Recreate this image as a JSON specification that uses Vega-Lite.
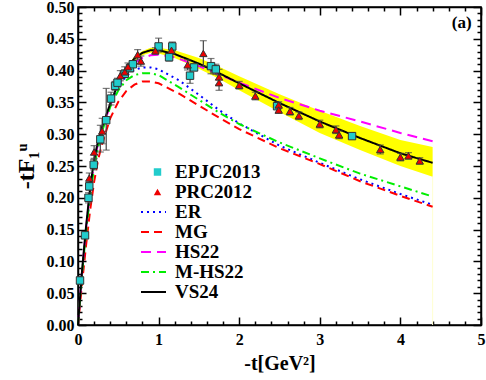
{
  "$schema": "https://vega.github.io/schema/vega-lite/v6.json",
  "width": 403,
  "height": 318,
  "autosize": {"type": "none"},
  "padding": {"left": 78, "top": 7, "right": 5, "bottom": 55},
  "config": {
    "view": {"stroke": "black", "strokeWidth": 1.5},
    "font": "Liberation Serif",
    "axis": {
      "domainColor": "black", "domainWidth": 1.5,
      "tickColor": "black", "tickWidth": 1.5,
      "labelFont": "Liberation Serif", "labelFontSize": 16, "labelFontWeight": "bold", "labelColor": "black",
      "titleFont": "Liberation Serif", "titleFontWeight": "bold", "titleColor": "black",
      "grid": false
    },
    "legend": {
      "labelFont": "Liberation Serif", "labelFontSize": 19, "labelFontWeight": "bold", "labelColor": "black",
      "padding": 0, "rowPadding": 0, "clipHeight": 19.5, "title": null, "labelBaseline": "middle", "labelLimit": 300
    }
  },
  "datasets": {
    "band": [
      {"x": 0.6, "lo": 0.400, "hi": 0.406},
      {"x": 0.7, "lo": 0.415, "hi": 0.422},
      {"x": 0.8, "lo": 0.424, "hi": 0.431},
      {"x": 0.9, "lo": 0.428, "hi": 0.436},
      {"x": 1.0, "lo": 0.427, "hi": 0.436},
      {"x": 1.2, "lo": 0.420, "hi": 0.432},
      {"x": 1.5, "lo": 0.403, "hi": 0.420},
      {"x": 1.75, "lo": 0.387, "hi": 0.406},
      {"x": 2.0, "lo": 0.369, "hi": 0.391},
      {"x": 2.5, "lo": 0.335, "hi": 0.363},
      {"x": 3.0, "lo": 0.302, "hi": 0.337},
      {"x": 3.5, "lo": 0.275, "hi": 0.313},
      {"x": 4.0, "lo": 0.250, "hi": 0.291},
      {"x": 4.4, "lo": 0.233, "hi": 0.280}
    ],
    "edge": [{"x": 4.4, "lo": 0, "hi": 0.233}],
    "models": [
      {"model": "ER", "x": 0, "y": 0}, {"model": "ER", "x": 0.05, "y": 0.08}, {"model": "ER", "x": 0.1, "y": 0.148}, {"model": "ER", "x": 0.15, "y": 0.205}, {"model": "ER", "x": 0.2, "y": 0.25}, {"model": "ER", "x": 0.25, "y": 0.282}, {"model": "ER", "x": 0.3, "y": 0.307}, {"model": "ER", "x": 0.4, "y": 0.346}, {"model": "ER", "x": 0.5, "y": 0.374}, {"model": "ER", "x": 0.6, "y": 0.392}, {"model": "ER", "x": 0.7, "y": 0.401}, {"model": "ER", "x": 0.8, "y": 0.405}, {"model": "ER", "x": 0.9, "y": 0.405}, {"model": "ER", "x": 1.0, "y": 0.402}, {"model": "ER", "x": 1.25, "y": 0.385}, {"model": "ER", "x": 1.5, "y": 0.362}, {"model": "ER", "x": 1.75, "y": 0.338}, {"model": "ER", "x": 2.0, "y": 0.317}, {"model": "ER", "x": 2.5, "y": 0.282}, {"model": "ER", "x": 3.0, "y": 0.255}, {"model": "ER", "x": 3.5, "y": 0.229}, {"model": "ER", "x": 4.0, "y": 0.206}, {"model": "ER", "x": 4.4, "y": 0.189},
      {"model": "MG", "x": 0, "y": 0}, {"model": "MG", "x": 0.05, "y": 0.065}, {"model": "MG", "x": 0.1, "y": 0.125}, {"model": "MG", "x": 0.15, "y": 0.18}, {"model": "MG", "x": 0.2, "y": 0.225}, {"model": "MG", "x": 0.25, "y": 0.26}, {"model": "MG", "x": 0.3, "y": 0.285}, {"model": "MG", "x": 0.35, "y": 0.305}, {"model": "MG", "x": 0.4, "y": 0.325}, {"model": "MG", "x": 0.5, "y": 0.351}, {"model": "MG", "x": 0.6, "y": 0.368}, {"model": "MG", "x": 0.7, "y": 0.378}, {"model": "MG", "x": 0.8, "y": 0.383}, {"model": "MG", "x": 0.9, "y": 0.383}, {"model": "MG", "x": 1.0, "y": 0.38}, {"model": "MG", "x": 1.25, "y": 0.364}, {"model": "MG", "x": 1.5, "y": 0.345}, {"model": "MG", "x": 1.75, "y": 0.326}, {"model": "MG", "x": 2.0, "y": 0.308}, {"model": "MG", "x": 2.5, "y": 0.278}, {"model": "MG", "x": 3.0, "y": 0.253}, {"model": "MG", "x": 3.5, "y": 0.226}, {"model": "MG", "x": 4.0, "y": 0.203}, {"model": "MG", "x": 4.4, "y": 0.186},
      {"model": "HS22", "x": 0, "y": 0}, {"model": "HS22", "x": 0.05, "y": 0.083}, {"model": "HS22", "x": 0.1, "y": 0.152}, {"model": "HS22", "x": 0.15, "y": 0.21}, {"model": "HS22", "x": 0.2, "y": 0.255}, {"model": "HS22", "x": 0.25, "y": 0.286}, {"model": "HS22", "x": 0.3, "y": 0.309}, {"model": "HS22", "x": 0.4, "y": 0.345}, {"model": "HS22", "x": 0.5, "y": 0.376}, {"model": "HS22", "x": 0.6, "y": 0.398}, {"model": "HS22", "x": 0.7, "y": 0.412}, {"model": "HS22", "x": 0.8, "y": 0.42}, {"model": "HS22", "x": 0.9, "y": 0.424}, {"model": "HS22", "x": 1.0, "y": 0.425}, {"model": "HS22", "x": 1.2, "y": 0.421}, {"model": "HS22", "x": 1.5, "y": 0.407}, {"model": "HS22", "x": 1.75, "y": 0.394}, {"model": "HS22", "x": 2.0, "y": 0.381}, {"model": "HS22", "x": 2.5, "y": 0.357}, {"model": "HS22", "x": 3.0, "y": 0.337}, {"model": "HS22", "x": 3.5, "y": 0.32}, {"model": "HS22", "x": 4.0, "y": 0.302}, {"model": "HS22", "x": 4.4, "y": 0.289},
      {"model": "M-HS22", "x": 0, "y": 0}, {"model": "M-HS22", "x": 0.05, "y": 0.08}, {"model": "M-HS22", "x": 0.1, "y": 0.147}, {"model": "M-HS22", "x": 0.15, "y": 0.203}, {"model": "M-HS22", "x": 0.2, "y": 0.248}, {"model": "M-HS22", "x": 0.25, "y": 0.28}, {"model": "M-HS22", "x": 0.3, "y": 0.305}, {"model": "M-HS22", "x": 0.4, "y": 0.343}, {"model": "M-HS22", "x": 0.5, "y": 0.369}, {"model": "M-HS22", "x": 0.6, "y": 0.385}, {"model": "M-HS22", "x": 0.7, "y": 0.393}, {"model": "M-HS22", "x": 0.8, "y": 0.396}, {"model": "M-HS22", "x": 0.9, "y": 0.396}, {"model": "M-HS22", "x": 1.0, "y": 0.393}, {"model": "M-HS22", "x": 1.25, "y": 0.374}, {"model": "M-HS22", "x": 1.5, "y": 0.354}, {"model": "M-HS22", "x": 1.75, "y": 0.334}, {"model": "M-HS22", "x": 2.0, "y": 0.316}, {"model": "M-HS22", "x": 2.5, "y": 0.287}, {"model": "M-HS22", "x": 3.0, "y": 0.262}, {"model": "M-HS22", "x": 3.5, "y": 0.238}, {"model": "M-HS22", "x": 4.0, "y": 0.218}, {"model": "M-HS22", "x": 4.4, "y": 0.202},
      {"model": "VS24", "x": 0, "y": 0}, {"model": "VS24", "x": 0.05, "y": 0.085}, {"model": "VS24", "x": 0.1, "y": 0.155}, {"model": "VS24", "x": 0.15, "y": 0.215}, {"model": "VS24", "x": 0.2, "y": 0.26}, {"model": "VS24", "x": 0.25, "y": 0.29}, {"model": "VS24", "x": 0.3, "y": 0.312}, {"model": "VS24", "x": 0.4, "y": 0.348}, {"model": "VS24", "x": 0.5, "y": 0.38}, {"model": "VS24", "x": 0.6, "y": 0.404}, {"model": "VS24", "x": 0.7, "y": 0.419}, {"model": "VS24", "x": 0.8, "y": 0.428}, {"model": "VS24", "x": 0.9, "y": 0.432}, {"model": "VS24", "x": 1.0, "y": 0.432}, {"model": "VS24", "x": 1.2, "y": 0.426}, {"model": "VS24", "x": 1.5, "y": 0.411}, {"model": "VS24", "x": 1.75, "y": 0.396}, {"model": "VS24", "x": 2.0, "y": 0.38}, {"model": "VS24", "x": 2.5, "y": 0.349}, {"model": "VS24", "x": 3.0, "y": 0.32}, {"model": "VS24", "x": 3.5, "y": 0.294}, {"model": "VS24", "x": 4.0, "y": 0.27}, {"model": "VS24", "x": 4.4, "y": 0.255}
    ],
    "points": [
      {"series": "EPJC2013", "x": 0.025, "y": 0.070, "lo": 0.064, "hi": 0.076},
      {"series": "EPJC2013", "x": 0.087, "y": 0.141, "lo": 0.136, "hi": 0.146},
      {"series": "EPJC2013", "x": 0.13, "y": 0.200, "lo": 0.192, "hi": 0.208},
      {"series": "EPJC2013", "x": 0.14, "y": 0.218, "lo": 0.212, "hi": 0.224},
      {"series": "EPJC2013", "x": 0.195, "y": 0.252, "lo": 0.244, "hi": 0.260},
      {"series": "EPJC2013", "x": 0.277, "y": 0.292, "lo": 0.272, "hi": 0.314},
      {"series": "EPJC2013", "x": 0.35, "y": 0.322, "lo": 0.275, "hi": 0.372},
      {"series": "EPJC2013", "x": 0.41, "y": 0.356, "lo": 0.346, "hi": 0.366},
      {"series": "EPJC2013", "x": 0.46, "y": 0.376, "lo": 0.369, "hi": 0.383},
      {"series": "EPJC2013", "x": 0.49, "y": 0.381, "lo": 0.374, "hi": 0.388},
      {"series": "EPJC2013", "x": 0.58, "y": 0.395, "lo": 0.389, "hi": 0.401},
      {"series": "EPJC2013", "x": 0.645, "y": 0.404, "lo": 0.398, "hi": 0.410},
      {"series": "EPJC2013", "x": 0.68, "y": 0.410, "lo": 0.405, "hi": 0.415},
      {"series": "EPJC2013", "x": 1.0, "y": 0.438, "lo": 0.429, "hi": 0.451},
      {"series": "EPJC2013", "x": 1.13, "y": 0.421, "lo": 0.415, "hi": 0.427},
      {"series": "EPJC2013", "x": 1.17, "y": 0.438, "lo": 0.431, "hi": 0.445},
      {"series": "EPJC2013", "x": 1.39, "y": 0.392, "lo": 0.380, "hi": 0.404},
      {"series": "EPJC2013", "x": 1.44, "y": 0.405, "lo": 0.400, "hi": 0.410},
      {"series": "EPJC2013", "x": 1.65, "y": 0.407, "lo": 0.395, "hi": 0.419},
      {"series": "EPJC2013", "x": 1.71, "y": 0.402, "lo": 0.394, "hi": 0.410},
      {"series": "EPJC2013", "x": 2.47, "y": 0.344, "lo": 0.340, "hi": 0.348},
      {"series": "EPJC2013", "x": 3.40, "y": 0.297, "lo": 0.294, "hi": 0.300},
      {"series": "PRC2012", "x": 0.14, "y": 0.231, "lo": 0.223, "hi": 0.239},
      {"series": "PRC2012", "x": 0.2, "y": 0.272, "lo": 0.262, "hi": 0.282},
      {"series": "PRC2012", "x": 0.3, "y": 0.305, "lo": 0.285, "hi": 0.325},
      {"series": "PRC2012", "x": 0.525, "y": 0.392, "lo": 0.384, "hi": 0.400},
      {"series": "PRC2012", "x": 0.58, "y": 0.398, "lo": 0.390, "hi": 0.406},
      {"series": "PRC2012", "x": 0.62, "y": 0.406, "lo": 0.400, "hi": 0.412},
      {"series": "PRC2012", "x": 0.74, "y": 0.425, "lo": 0.417, "hi": 0.433},
      {"series": "PRC2012", "x": 0.78, "y": 0.415, "lo": 0.407, "hi": 0.423},
      {"series": "PRC2012", "x": 0.96, "y": 0.431, "lo": 0.426, "hi": 0.436},
      {"series": "PRC2012", "x": 1.16, "y": 0.432, "lo": 0.426, "hi": 0.438},
      {"series": "PRC2012", "x": 1.36, "y": 0.409, "lo": 0.401, "hi": 0.417},
      {"series": "PRC2012", "x": 1.555, "y": 0.427, "lo": 0.407, "hi": 0.447},
      {"series": "PRC2012", "x": 1.75, "y": 0.390, "lo": 0.378, "hi": 0.402},
      {"series": "PRC2012", "x": 1.75, "y": 0.381, "lo": 0.369, "hi": 0.393},
      {"series": "PRC2012", "x": 2.0, "y": 0.377, "lo": 0.371, "hi": 0.383},
      {"series": "PRC2012", "x": 2.2, "y": 0.360, "lo": 0.354, "hi": 0.366},
      {"series": "PRC2012", "x": 2.49, "y": 0.346, "lo": 0.341, "hi": 0.351},
      {"series": "PRC2012", "x": 2.49, "y": 0.338, "lo": 0.333, "hi": 0.343},
      {"series": "PRC2012", "x": 2.63, "y": 0.336, "lo": 0.330, "hi": 0.342},
      {"series": "PRC2012", "x": 2.74, "y": 0.329, "lo": 0.323, "hi": 0.335},
      {"series": "PRC2012", "x": 3.0, "y": 0.316, "lo": 0.310, "hi": 0.322},
      {"series": "PRC2012", "x": 3.2, "y": 0.307, "lo": 0.301, "hi": 0.313},
      {"series": "PRC2012", "x": 3.24, "y": 0.299, "lo": 0.293, "hi": 0.305},
      {"series": "PRC2012", "x": 3.75, "y": 0.276, "lo": 0.269, "hi": 0.283},
      {"series": "PRC2012", "x": 4.0, "y": 0.264, "lo": 0.258, "hi": 0.270},
      {"series": "PRC2012", "x": 4.1, "y": 0.266, "lo": 0.261, "hi": 0.271},
      {"series": "PRC2012", "x": 4.24, "y": 0.258, "lo": 0.253, "hi": 0.263}
    ],
    "label": [{"x": 4.76, "y": 0.475, "text": "(a)"}]
  },
  "layer": [
    {
      "layer": [
        {
          "data": {"name": "band"},
          "mark": {"type": "area", "color": "#ffff00", "opacity": 1},
          "encoding": {
            "x": {"field": "x", "type": "quantitative", "scale": {"domain": [0, 5], "nice": false, "zero": false},
              "axis": {"orient": "bottom", "title": "-t[GeV²]", "titleFontSize": 20, "titlePadding": 6, "values": [0,0.2,0.4,0.6,0.8,1,1.2,1.4,1.6,1.8,2,2.2,2.4,2.6,2.8,3,3.2,3.4,3.6,3.8,4,4.2,4.4,4.6,4.8,5], "labelExpr": "abs(datum.value - round(datum.value)) < 0.001 ? format(datum.value, 'd') : ''", "tickSize": {"condition": {"test": "abs(datum.value - round(datum.value)) < 0.001", "value": -8}, "value": -4}, "labelPadding": 14, "labelFlush": false}},
            "y": {"field": "lo", "type": "quantitative", "scale": {"domain": [0, 0.5], "nice": false, "zero": false},
              "axis": {"orient": "left", "title": "-tF₁ᵘ", "titleFontSize": 24, "titlePadding": 8, "values": [0,0.01,0.02,0.03,0.04,0.05,0.06,0.07,0.08,0.09,0.1,0.11,0.12,0.13,0.14,0.15,0.16,0.17,0.18,0.19,0.2,0.21,0.22,0.23,0.24,0.25,0.26,0.27,0.28,0.29,0.3,0.31,0.32,0.33,0.34,0.35,0.36,0.37,0.38,0.39,0.4,0.41,0.42,0.43,0.44,0.45,0.46,0.47,0.48,0.49,0.5], "labelExpr": "abs(datum.value*20 - round(datum.value*20)) < 0.001 ? format(datum.value, '.2f') : ''", "tickSize": {"condition": {"test": "abs(datum.value*20 - round(datum.value*20)) < 0.001", "value": -8}, "value": -4}, "labelPadding": 12, "labelFlush": false}},
            "y2": {"field": "hi"}
          }
        },
        {
          "data": {"name": "edge"},
          "mark": {"type": "rule", "color": "#ffffd0", "strokeWidth": 1},
          "encoding": {
            "x": {"field": "x", "type": "quantitative",
              "axis": {"orient": "bottom", "title": "-t[GeV²]", "titleFontSize": 20, "titlePadding": 6, "values": [0,0.2,0.4,0.6,0.8,1,1.2,1.4,1.6,1.8,2,2.2,2.4,2.6,2.8,3,3.2,3.4,3.6,3.8,4,4.2,4.4,4.6,4.8,5], "labelExpr": "abs(datum.value - round(datum.value)) < 0.001 ? format(datum.value, 'd') : ''", "tickSize": {"condition": {"test": "abs(datum.value - round(datum.value)) < 0.001", "value": -8}, "value": -4}, "labelPadding": 14, "labelFlush": false}},
            "y": {"field": "lo", "type": "quantitative",
              "axis": {"orient": "left", "title": "-tF₁ᵘ", "titleFontSize": 24, "titlePadding": 8, "values": [0,0.01,0.02,0.03,0.04,0.05,0.06,0.07,0.08,0.09,0.1,0.11,0.12,0.13,0.14,0.15,0.16,0.17,0.18,0.19,0.2,0.21,0.22,0.23,0.24,0.25,0.26,0.27,0.28,0.29,0.3,0.31,0.32,0.33,0.34,0.35,0.36,0.37,0.38,0.39,0.4,0.41,0.42,0.43,0.44,0.45,0.46,0.47,0.48,0.49,0.5], "labelExpr": "abs(datum.value*20 - round(datum.value*20)) < 0.001 ? format(datum.value, '.2f') : ''", "tickSize": {"condition": {"test": "abs(datum.value*20 - round(datum.value*20)) < 0.001", "value": -8}, "value": -4}, "labelPadding": 12, "labelFlush": false}},
            "y2": {"field": "hi"}
          }
        },
        {
          "data": {"name": "models"},
          "mark": {"type": "line", "strokeWidth": 2},
          "encoding": {
            "x": {"field": "x", "type": "quantitative",
              "axis": {"orient": "bottom", "title": "-t[GeV²]", "titleFontSize": 20, "titlePadding": 6, "values": [0,0.2,0.4,0.6,0.8,1,1.2,1.4,1.6,1.8,2,2.2,2.4,2.6,2.8,3,3.2,3.4,3.6,3.8,4,4.2,4.4,4.6,4.8,5], "labelExpr": "abs(datum.value - round(datum.value)) < 0.001 ? format(datum.value, 'd') : ''", "tickSize": {"condition": {"test": "abs(datum.value - round(datum.value)) < 0.001", "value": -8}, "value": -4}, "labelPadding": 14, "labelFlush": false}},
            "y": {"field": "y", "type": "quantitative",
              "axis": {"orient": "left", "title": "-tF₁ᵘ", "titleFontSize": 24, "titlePadding": 8, "values": [0,0.01,0.02,0.03,0.04,0.05,0.06,0.07,0.08,0.09,0.1,0.11,0.12,0.13,0.14,0.15,0.16,0.17,0.18,0.19,0.2,0.21,0.22,0.23,0.24,0.25,0.26,0.27,0.28,0.29,0.3,0.31,0.32,0.33,0.34,0.35,0.36,0.37,0.38,0.39,0.4,0.41,0.42,0.43,0.44,0.45,0.46,0.47,0.48,0.49,0.5], "labelExpr": "abs(datum.value*20 - round(datum.value*20)) < 0.001 ? format(datum.value, '.2f') : ''", "tickSize": {"condition": {"test": "abs(datum.value*20 - round(datum.value*20)) < 0.001", "value": -8}, "value": -4}, "labelPadding": 12, "labelFlush": false}},
            "stroke": {
              "field": "model", "type": "nominal",
              "scale": {"domain": ["ER", "MG", "HS22", "M-HS22", "VS24"], "range": ["#0000ff", "#ff0000", "#ff00ff", "#00ee00", "#000000"]},
              "legend": {"orient": "none", "legendX": 62, "legendY": 195.25, "symbolSize": 625, "symbolStrokeWidth": 2, "labelOffset": 8, "symbolType": "stroke", "rowPadding": 0, "clipHeight": 19.5, "labelFontSize": 19}
            },
            "strokeDash": {
              "field": "model", "type": "nominal",
              "scale": {"domain": ["ER", "MG", "HS22", "M-HS22", "VS24"], "range": [[2, 4], [8, 5], [10, 6], [8, 4, 2, 4], [1, 0]]},
              "legend": {"orient": "none", "legendX": 62, "legendY": 195.25, "symbolSize": 625, "symbolStrokeWidth": 2, "labelOffset": 8, "symbolType": "stroke", "rowPadding": 0, "clipHeight": 19.5, "labelFontSize": 19}
            },
            "order": {"field": "x", "type": "quantitative"}
          }
        },
        {
          "data": {"name": "points"},
          "mark": {"type": "rule", "color": "#444444", "strokeWidth": 1.2},
          "encoding": {
            "x": {"field": "x", "type": "quantitative",
              "axis": {"orient": "bottom", "title": "-t[GeV²]", "titleFontSize": 20, "titlePadding": 6, "values": [0,0.2,0.4,0.6,0.8,1,1.2,1.4,1.6,1.8,2,2.2,2.4,2.6,2.8,3,3.2,3.4,3.6,3.8,4,4.2,4.4,4.6,4.8,5], "labelExpr": "abs(datum.value - round(datum.value)) < 0.001 ? format(datum.value, 'd') : ''", "tickSize": {"condition": {"test": "abs(datum.value - round(datum.value)) < 0.001", "value": -8}, "value": -4}, "labelPadding": 14, "labelFlush": false}},
            "y": {"field": "lo", "type": "quantitative",
              "axis": {"orient": "left", "title": "-tF₁ᵘ", "titleFontSize": 24, "titlePadding": 8, "values": [0,0.01,0.02,0.03,0.04,0.05,0.06,0.07,0.08,0.09,0.1,0.11,0.12,0.13,0.14,0.15,0.16,0.17,0.18,0.19,0.2,0.21,0.22,0.23,0.24,0.25,0.26,0.27,0.28,0.29,0.3,0.31,0.32,0.33,0.34,0.35,0.36,0.37,0.38,0.39,0.4,0.41,0.42,0.43,0.44,0.45,0.46,0.47,0.48,0.49,0.5], "labelExpr": "abs(datum.value*20 - round(datum.value*20)) < 0.001 ? format(datum.value, '.2f') : ''", "tickSize": {"condition": {"test": "abs(datum.value*20 - round(datum.value*20)) < 0.001", "value": -8}, "value": -4}, "labelPadding": 12, "labelFlush": false}},
            "y2": {"field": "hi"}
          }
        },
        {
          "data": {"name": "points"},
          "mark": {"type": "tick", "color": "#444444", "orient": "horizontal", "size": 7, "thickness": 1.2},
          "encoding": {
            "x": {"field": "x", "type": "quantitative",
              "axis": {"orient": "bottom", "title": "-t[GeV²]", "titleFontSize": 20, "titlePadding": 6, "values": [0,0.2,0.4,0.6,0.8,1,1.2,1.4,1.6,1.8,2,2.2,2.4,2.6,2.8,3,3.2,3.4,3.6,3.8,4,4.2,4.4,4.6,4.8,5], "labelExpr": "abs(datum.value - round(datum.value)) < 0.001 ? format(datum.value, 'd') : ''", "tickSize": {"condition": {"test": "abs(datum.value - round(datum.value)) < 0.001", "value": -8}, "value": -4}, "labelPadding": 14, "labelFlush": false}},
            "y": {"field": "lo", "type": "quantitative",
              "axis": {"orient": "left", "title": "-tF₁ᵘ", "titleFontSize": 24, "titlePadding": 8, "values": [0,0.01,0.02,0.03,0.04,0.05,0.06,0.07,0.08,0.09,0.1,0.11,0.12,0.13,0.14,0.15,0.16,0.17,0.18,0.19,0.2,0.21,0.22,0.23,0.24,0.25,0.26,0.27,0.28,0.29,0.3,0.31,0.32,0.33,0.34,0.35,0.36,0.37,0.38,0.39,0.4,0.41,0.42,0.43,0.44,0.45,0.46,0.47,0.48,0.49,0.5], "labelExpr": "abs(datum.value*20 - round(datum.value*20)) < 0.001 ? format(datum.value, '.2f') : ''", "tickSize": {"condition": {"test": "abs(datum.value*20 - round(datum.value*20)) < 0.001", "value": -8}, "value": -4}, "labelPadding": 12, "labelFlush": false}}
          }
        },
        {
          "data": {"name": "points"},
          "mark": {"type": "tick", "color": "#444444", "orient": "horizontal", "size": 7, "thickness": 1.2},
          "encoding": {
            "x": {"field": "x", "type": "quantitative",
              "axis": {"orient": "bottom", "title": "-t[GeV²]", "titleFontSize": 20, "titlePadding": 6, "values": [0,0.2,0.4,0.6,0.8,1,1.2,1.4,1.6,1.8,2,2.2,2.4,2.6,2.8,3,3.2,3.4,3.6,3.8,4,4.2,4.4,4.6,4.8,5], "labelExpr": "abs(datum.value - round(datum.value)) < 0.001 ? format(datum.value, 'd') : ''", "tickSize": {"condition": {"test": "abs(datum.value - round(datum.value)) < 0.001", "value": -8}, "value": -4}, "labelPadding": 14, "labelFlush": false}},
            "y": {"field": "hi", "type": "quantitative",
              "axis": {"orient": "left", "title": "-tF₁ᵘ", "titleFontSize": 24, "titlePadding": 8, "values": [0,0.01,0.02,0.03,0.04,0.05,0.06,0.07,0.08,0.09,0.1,0.11,0.12,0.13,0.14,0.15,0.16,0.17,0.18,0.19,0.2,0.21,0.22,0.23,0.24,0.25,0.26,0.27,0.28,0.29,0.3,0.31,0.32,0.33,0.34,0.35,0.36,0.37,0.38,0.39,0.4,0.41,0.42,0.43,0.44,0.45,0.46,0.47,0.48,0.49,0.5], "labelExpr": "abs(datum.value*20 - round(datum.value*20)) < 0.001 ? format(datum.value, '.2f') : ''", "tickSize": {"condition": {"test": "abs(datum.value*20 - round(datum.value*20)) < 0.001", "value": -8}, "value": -4}, "labelPadding": 12, "labelFlush": false}}
          }
        },
        {
          "data": {"name": "points"},
          "mark": {"type": "point", "filled": true, "opacity": 1, "stroke": "#333333", "strokeWidth": 1, "size": 55},
          "encoding": {
            "x": {"field": "x", "type": "quantitative",
              "axis": {"orient": "bottom", "title": "-t[GeV²]", "titleFontSize": 20, "titlePadding": 6, "values": [0,0.2,0.4,0.6,0.8,1,1.2,1.4,1.6,1.8,2,2.2,2.4,2.6,2.8,3,3.2,3.4,3.6,3.8,4,4.2,4.4,4.6,4.8,5], "labelExpr": "abs(datum.value - round(datum.value)) < 0.001 ? format(datum.value, 'd') : ''", "tickSize": {"condition": {"test": "abs(datum.value - round(datum.value)) < 0.001", "value": -8}, "value": -4}, "labelPadding": 14, "labelFlush": false}},
            "y": {"field": "y", "type": "quantitative",
              "axis": {"orient": "left", "title": "-tF₁ᵘ", "titleFontSize": 24, "titlePadding": 8, "values": [0,0.01,0.02,0.03,0.04,0.05,0.06,0.07,0.08,0.09,0.1,0.11,0.12,0.13,0.14,0.15,0.16,0.17,0.18,0.19,0.2,0.21,0.22,0.23,0.24,0.25,0.26,0.27,0.28,0.29,0.3,0.31,0.32,0.33,0.34,0.35,0.36,0.37,0.38,0.39,0.4,0.41,0.42,0.43,0.44,0.45,0.46,0.47,0.48,0.49,0.5], "labelExpr": "abs(datum.value*20 - round(datum.value*20)) < 0.001 ? format(datum.value, '.2f') : ''", "tickSize": {"condition": {"test": "abs(datum.value*20 - round(datum.value*20)) < 0.001", "value": -8}, "value": -4}, "labelPadding": 12, "labelFlush": false}},
            "fill": {
              "field": "series", "type": "nominal",
              "scale": {"domain": ["EPJC2013", "PRC2012"], "range": ["#22cccc", "#ee0000"]},
              "legend": {"orient": "none", "legendX": 70, "legendY": 155.25, "labelOffset": 8, "symbolSize": 55, "symbolStrokeColor": "#333333", "symbolStrokeWidth": 1, "rowPadding": 0, "clipHeight": 19.5, "labelFontSize": 19}
            },
            "shape": {
              "field": "series", "type": "nominal",
              "scale": {"domain": ["EPJC2013", "PRC2012"], "range": ["square", "triangle-up"]},
              "legend": {"orient": "none", "legendX": 70, "legendY": 155.25, "labelOffset": 8, "symbolSize": 55, "symbolStrokeColor": "#333333", "symbolStrokeWidth": 1, "rowPadding": 0, "clipHeight": 19.5, "labelFontSize": 19}
            }
          }
        }
      ]
    },
    {
      "data": {"name": "label"},
      "mark": {"type": "text", "font": "Liberation Serif", "fontSize": 17, "fontWeight": "bold", "color": "black"},
      "encoding": {
        "x": {
          "field": "x", "type": "quantitative",
          "axis": {
            "orient": "top", "title": null, "labels": false,
            "values": [0,0.2,0.4,0.6,0.8,1,1.2,1.4,1.6,1.8,2,2.2,2.4,2.6,2.8,3,3.2,3.4,3.6,3.8,4,4.2,4.4,4.6,4.8,5],
            "tickSize": {"condition": {"test": "abs(datum.value - round(datum.value)) < 0.001", "value": -8}, "value": -4}
          }
        },
        "y": {
          "field": "y", "type": "quantitative",
          "axis": {
            "orient": "right", "title": null, "labels": false,
            "values": [0,0.01,0.02,0.03,0.04,0.05,0.06,0.07,0.08,0.09,0.1,0.11,0.12,0.13,0.14,0.15,0.16,0.17,0.18,0.19,0.2,0.21,0.22,0.23,0.24,0.25,0.26,0.27,0.28,0.29,0.3,0.31,0.32,0.33,0.34,0.35,0.36,0.37,0.38,0.39,0.4,0.41,0.42,0.43,0.44,0.45,0.46,0.47,0.48,0.49,0.5],
            "tickSize": {"condition": {"test": "abs(datum.value*20 - round(datum.value*20)) < 0.001", "value": -8}, "value": -4}
          }
        },
        "text": {"field": "text"}
      }
    }
  ],
  "resolve": {"axis": {"x": "independent", "y": "independent"}}
}
